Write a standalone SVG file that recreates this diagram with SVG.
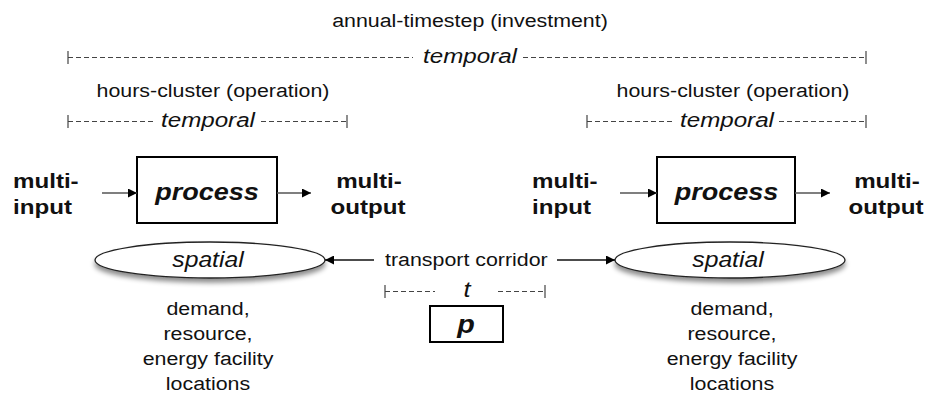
<svg xmlns="http://www.w3.org/2000/svg" width="930" height="397" viewBox="0 0 930 397">
<style>
text{font-family:"Liberation Sans",Arial,sans-serif;fill:#111}
.st{transform:scale(1.15,1)}
.n{font-size:18.6px}
.tm{font-size:21px;font-style:italic}
.b{font-size:21px;font-weight:bold}
.pr{font-size:23.5px;font-weight:bold;font-style:italic}
.sp{font-size:21.5px;font-style:italic}
.c{text-anchor:middle}
.dash{stroke:#444;stroke-width:1;stroke-dasharray:5 3;fill:none}
.tick{stroke:#444;stroke-width:1.2}
.box{fill:#fff;stroke:#000;stroke-width:2}
.ell{fill:#fff;stroke:#222;stroke-width:1.3;filter:url(#sh)}
.arr{stroke:#555;stroke-width:1.5;fill:none;marker-end:url(#ah)}
.arr2{stroke:#111;stroke-width:1.3;fill:none;marker-end:url(#ah)}
</style>
<defs>
<marker id="ah" viewBox="0 0 10 10" refX="10" refY="5" markerWidth="11" markerHeight="9" markerUnits="userSpaceOnUse" orient="auto">
<path d="M0,0 L10,5 L0,10 z" fill="#000"/>
</marker>
<filter id="sh" x="-10%" y="-40%" width="120%" height="200%">
<feDropShadow dx="0" dy="4" stdDeviation="2.5" flood-color="#000" flood-opacity="0.45"/>
</filter>
</defs>

<g id="annual-timestep">
<text class="n c st" x="408.7" y="27">annual-timestep (investment)</text>
<line class="dash" x1="68" y1="57.5" x2="413" y2="57.5"/>
<line class="dash" x1="523" y1="57.5" x2="866" y2="57.5"/>
<line class="tick" x1="68" y1="51" x2="68" y2="64"/>
<line class="tick" x1="866" y1="51" x2="866" y2="64"/>
<text class="tm c st" x="408.7" y="63">temporal</text>
</g>

<g id="hours-cluster-left">
<text class="n c st" x="185.22" y="97">hours-cluster (operation)</text>
<line class="dash" x1="68" y1="121.5" x2="155" y2="121.5"/>
<line class="dash" x1="261" y1="121.5" x2="347" y2="121.5"/>
<line class="tick" x1="68" y1="115" x2="68" y2="128"/>
<line class="tick" x1="347" y1="115" x2="347" y2="128"/>
<text class="tm c st" x="180.87" y="127">temporal</text>
</g>

<g id="hours-cluster-right">
<text class="n c st" x="637.39" y="97">hours-cluster (operation)</text>
<line class="dash" x1="587" y1="121.5" x2="675" y2="121.5"/>
<line class="dash" x1="779" y1="121.5" x2="866" y2="121.5"/>
<line class="tick" x1="587" y1="115" x2="587" y2="128"/>
<line class="tick" x1="866" y1="115" x2="866" y2="128"/>
<text class="tm c st" x="632.17" y="127">temporal</text>
</g>

<g id="input-left">
<text class="b st" x="11.3" y="188">multi-</text>
<text class="b st" x="11.3" y="214">input</text>
</g>
<g id="process-left">
<rect class="box" x="137" y="157" width="140" height="66"/>
<text class="pr c st" x="180" y="200">process</text>
</g>
<g id="output-left">
<text class="b c st" x="320.87" y="188">multi-</text>
<text class="b c st" x="320" y="214">output</text>
</g>

<g id="input-right">
<text class="b st" x="462.61" y="188">multi-</text>
<text class="b st" x="462.61" y="214">input</text>
</g>
<g id="process-right">
<rect class="box" x="657" y="157" width="138" height="66"/>
<text class="pr c st" x="631.74" y="200">process</text>
</g>
<g id="output-right">
<text class="b c st" x="771.3" y="188">multi-</text>
<text class="b c st" x="770.43" y="214">output</text>
</g>

<g id="spatial-left">
<ellipse class="ell" cx="210" cy="260" rx="115" ry="18"/>
<text class="sp c st" x="180.87" y="267">spatial</text>
<text class="n c st" x="180.87" y="315">demand,</text>
<text class="n c st" x="180.87" y="340">resource,</text>
<text class="n c st" x="180.87" y="365">energy facility</text>
<text class="n c st" x="180.87" y="390">locations</text>
</g>

<g id="spatial-right">
<ellipse class="ell" cx="730" cy="260" rx="115" ry="18"/>
<text class="sp c st" x="633.04" y="267">spatial</text>
<text class="n c st" x="636.52" y="315">demand,</text>
<text class="n c st" x="636.52" y="340">resource,</text>
<text class="n c st" x="636.52" y="365">energy facility</text>
<text class="n c st" x="636.52" y="390">locations</text>
</g>

<g id="transport-corridor">
<text class="n st" x="334.78" y="266">transport corridor</text>
<line class="dash" x1="385" y1="291.5" x2="435" y2="291.5"/>
<line class="dash" x1="498" y1="291.5" x2="545" y2="291.5"/>
<line class="tick" x1="385" y1="285" x2="385" y2="298"/>
<line class="tick" x1="545" y1="285" x2="545" y2="298"/>
<text class="c st" x="406.09" y="297" style="font-size:22px;font-style:italic">t</text>
<rect class="box" x="430" y="306" width="73" height="36"/>
<text class="c st" x="405.22" y="333" style="font-size:25px;font-weight:bold;font-style:italic">p</text>
</g>

<g id="connectors">
<line class="arr" x1="102" y1="193" x2="137" y2="193"/>
<line class="arr" x1="277" y1="193" x2="311" y2="193"/>
<line class="arr" x1="620" y1="193" x2="657" y2="193"/>
<line class="arr" x1="795" y1="193" x2="830" y2="193"/>
<line class="arr2" x1="374" y1="260" x2="325" y2="260"/>
<line class="arr2" x1="557" y1="260" x2="615" y2="260"/>
</g>
</svg>
